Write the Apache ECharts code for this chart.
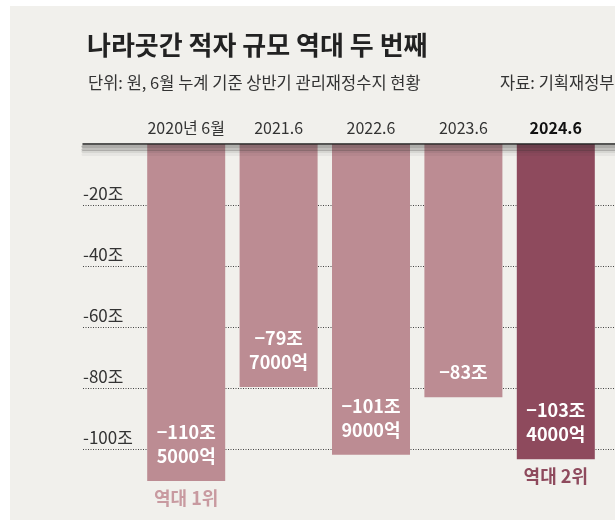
<!DOCTYPE html>
<html>
<head>
<meta charset="utf-8">
<script src="https://cdn.jsdelivr.net/npm/echarts@6/dist/echarts.min.js"></script>
<style>
  html, body { margin: 0; padding: 0; background: #fff; }
  #chart {
    width: 615px;
    height: 520px;
    background: #f1f0ec;
    box-shadow: inset 10px 6px 0 0 #fff;
  }
</style>
</head>
<body>
<div id="chart"></div>
<script>
const categories = ["2020년 6월", "2021.6", "2022.6", "2023.6", "2024.6"];
// 관리재정수지 (조 원)
const balance = [-110.5, -79.7, -101.9, -83, -103.4];
const ranks = ["역대 1위", "", "", "", "역대 2위"];
const highlight = [false, false, false, false, true];
const yTicks = [0, -20, -40, -60, -80, -100, -120];

const FONT = "'Noto Sans CJK KR', 'Noto Sans', sans-serif";
const LIGHT = "#bc8c93";
const DARK = "#8e4a5d";

function barLabel(v) {
  const a = Math.abs(v);
  const jo = Math.floor(a + 1e-9);
  const eok = Math.round((a - jo) * 10) * 1000;
  return "−" + jo + "조" + (eok ? "\n" + eok + "억" : "");
}

// top axis "shelf" shadow: translucent bands just under the line
function shadowAxis(offset, alpha) {
  return {
    gridIndex: 0,
    type: "category",
    position: "top",
    offset: offset,
    data: categories,
    z: 9,
    axisLine: {
      show: true,
      onZero: false,
      lineStyle: { color: "rgba(40,40,40," + alpha + ")", width: 3 },
    },
    axisTick: { show: false },
    axisLabel: { show: false },
  };
}

const chart = echarts.init(document.getElementById("chart"));

chart.setOption({
  backgroundColor: "transparent",
  textStyle: { fontFamily: FONT },
  title: [
    {
      text: "나라곳간 적자 규모 역대 두 번째",
      left: 82, top: 27,
      textStyle: { fontFamily: FONT, fontSize: 26, fontWeight: "bold", color: "#222" },
    },
    {
      text: "단위: 원, 6월 누계 기준 상반기 관리재정수지 현황",
      left: 83, top: 69,
      textStyle: { fontFamily: FONT, fontSize: 16.5, fontWeight: "normal", color: "#333" },
    },
    {
      text: "자료: 기획재정부",
      left: 495, top: 69,
      textStyle: { fontFamily: FONT, fontSize: 16.5, fontWeight: "normal", color: "#333" },
    },
  ],
  grid: [
    { left: 83, right: 0, top: 144, bottom: 10 },
    { left: 140, width: 462, top: 144, bottom: 10 },
  ],
  xAxis: [
    {
      gridIndex: 0,
      type: "category",
      position: "top",
      data: categories,
      z: 10,
      axisLine: {
        show: true,
        onZero: false,
        lineStyle: { color: "#222", width: 1.5 },
      },
      axisTick: { show: false },
      axisLabel: { show: false },
    },
    {
      gridIndex: 1,
      type: "category",
      position: "top",
      data: categories.map((c, i) => ({
        value: c,
        textStyle: highlight[i] ? { fontWeight: "bold", color: "#111" } : {},
      })),
      axisLine: { show: false },
      axisTick: { show: false },
      axisLabel: { interval: 0, margin: 8, fontSize: 16, color: "#333", fontFamily: FONT },
    },
    shadowAxis(-2.5, 0.34),
    shadowAxis(-5, 0.24),
    shadowAxis(-7.5, 0.13),
    shadowAxis(-10, 0.05),
  ],
  yAxis: [
    {
      gridIndex: 0,
      type: "value",
      max: yTicks[0],
      min: yTicks[yTicks.length - 1],
      interval: 20,
      axisLine: { show: false },
      axisTick: { show: false },
      axisLabel: {
        inside: true,
        margin: 0,
        align: "left",
        verticalAlign: "bottom",
        padding: [0, 0, 3, 0],
        fontSize: 17,
        color: "#333",
        fontFamily: FONT,
        formatter: (v) => (v === 0 || v === -120 ? "" : v + "조"),
      },
      splitLine: {
        show: true,
        showMinLine: false,
        showMaxLine: false,
        lineStyle: { color: "#444", width: 1, type: [1, 1.5] },
      },
    },
    {
      gridIndex: 1,
      type: "value",
      max: yTicks[0],
      min: yTicks[yTicks.length - 1],
      interval: 20,
      show: false,
      splitLine: { show: false },
    },
  ],
  series: [
    {
      type: "bar",
      xAxisIndex: 1,
      yAxisIndex: 1,
      barWidth: 78,
      data: balance.map((v, i) => ({
        value: v,
        itemStyle: { color: highlight[i] ? DARK : LIGHT },
      })),
      label: {
        show: true,
        position: "insideBottom",
        distance: 13,
        color: "#fff",
        fontSize: 18,
        fontWeight: "bold",
        lineHeight: 24,
        fontFamily: FONT,
        formatter: (p) => barLabel(p.value),
      },
      markPoint: {
        symbol: "rect",
        symbolSize: 0,
        silent: true,
        data: ranks
          .map((r, i) =>
            r
              ? {
                  coord: [categories[i], balance[i]],
                  value: r,
                  label: { color: highlight[i] ? DARK : "#c89aa0" },
                }
              : null
          )
          .filter(Boolean),
        label: {
          show: true,
          position: "bottom",
          distance: 8,
          fontSize: 18,
          fontWeight: "bold",
          fontFamily: FONT,
          formatter: (p) => p.value,
        },
      },
    },
  ],
});
</script>
</body>
</html>
